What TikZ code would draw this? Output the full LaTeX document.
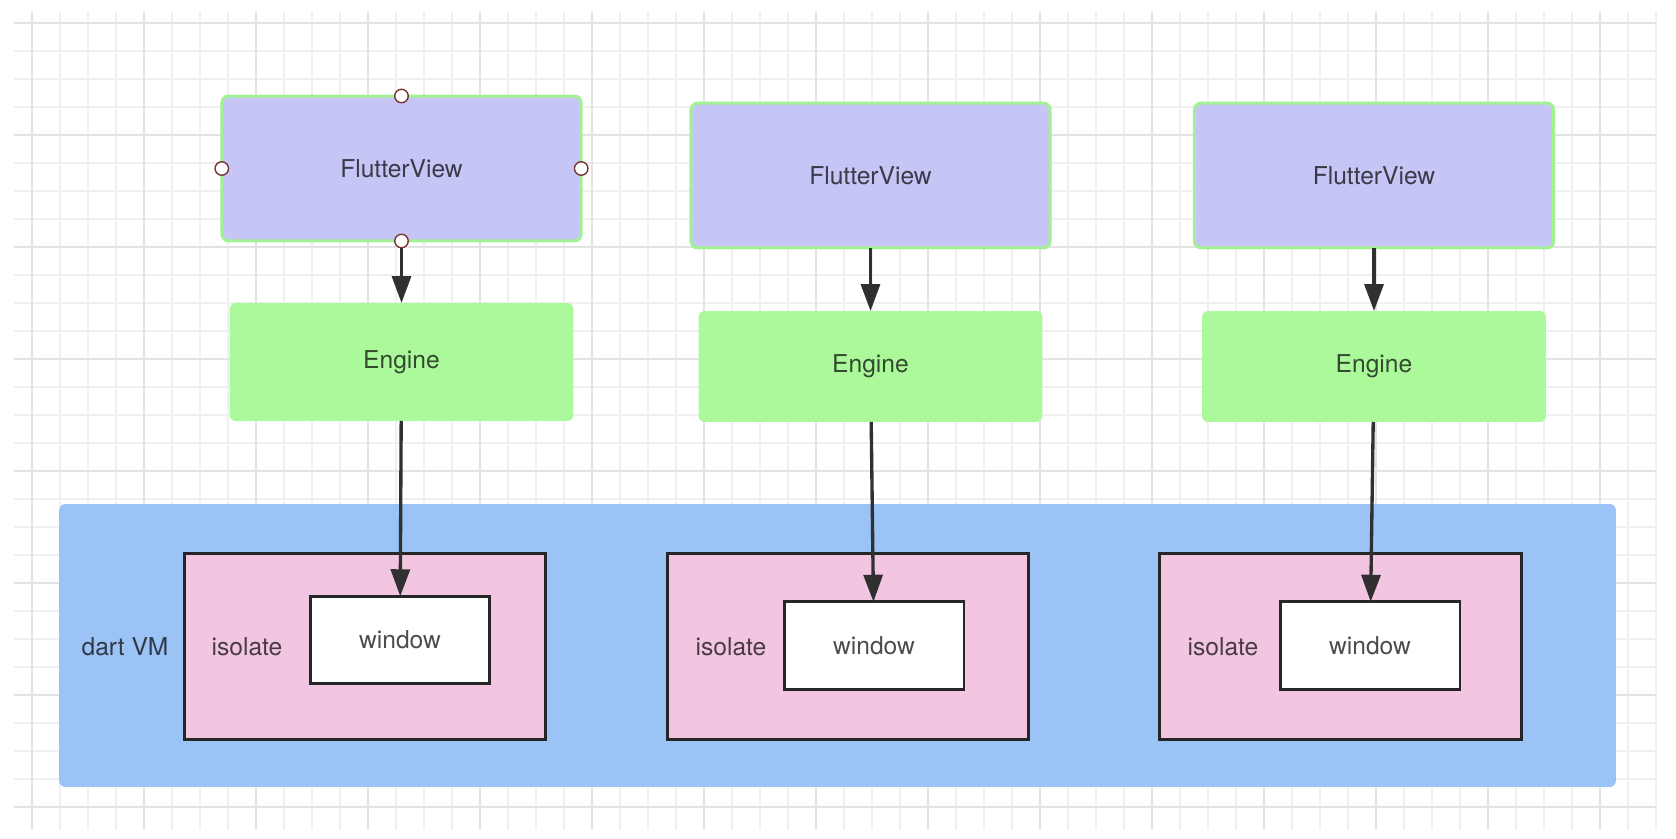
\documentclass[tikz,border=0pt]{standalone}
\usepackage{fontspec}
\setmainfont{TeX Gyre Heros}
\usetikzlibrary{arrows.meta}

\definecolor{viewfill}{HTML}{C5C5F6}
\definecolor{viewline}{HTML}{A2F294}
\definecolor{enginefill}{HTML}{ABF99A}
\definecolor{vmfill}{HTML}{9CC3F6}
\definecolor{isofill}{HTML}{F2C6E1}
\definecolor{boxline}{HTML}{262626}
\definecolor{arrowline}{HTML}{303030}
\definecolor{gridminor}{HTML}{F0F0F0}
\definecolor{gridmajor}{HTML}{E3E3E3}
\definecolor{handleline}{HTML}{7A3535}

\begin{document}
\begin{tikzpicture} [
                % one unit is one pixel of the screenshot, y grows downwards
                x=0.02cm, y=-0.02cm,
                font=\fontsize{14}{16}\selectfont,
                box/.style = {rectangle, outer sep=0pt, inner sep=0pt, text=black, text opacity=0.7},
                view/.style = {box, fill=viewfill, draw=viewline, line width=1.7pt, rounded corners=4pt,
                               minimum width=7.19cm, minimum height=2.9cm},
                engine/.style = {box, fill=enginefill, rounded corners=3.5pt, minimum width=6.88cm},
                vm/.style = {box, fill=vmfill, rounded corners=3.5pt, minimum width=31.14cm, minimum height=5.66cm},
                isolate/.style = {box, fill=isofill, draw=boxline, line width=1.7pt,
                                  minimum width=7.24cm, minimum height=3.74cm},
                window/.style = {box, fill=white, draw=boxline, line width=1.7pt,
                                 minimum width=3.6cm, minimum height=1.75cm},
                caption/.style = {box},
                link/.style = {draw=arrowline, line width=1.9pt, -{Triangle[length=0.54cm, width=0.38cm]}},
                handle/.style = {circle, fill=white, draw=handleline, line width=0.8pt,
                                 minimum size=0.27cm, inner sep=0pt}
            ]
            \useasboundingbox (0,0) rectangle (1676,838);
            \fill[white] (0,0) rectangle (1676,838);
            % the grid paper
            \foreach \gx in {32,60,...,1656}
                \draw[gridminor, line width=0.7pt] (\gx,12) -- (\gx,830);
            \foreach \gy in {23,51,...,807}
                \draw[gridminor, line width=0.7pt] (14,\gy) -- (1657,\gy);
            \foreach \gx in {32,144,...,1600}
                \draw[gridmajor, line width=0.7pt] (\gx,12) -- (\gx,830);
            \foreach \gy in {23,135,...,807}
                \draw[gridmajor, line width=0.7pt] (14,\gy) -- (1657,\gy);
            % the dart VM and its isolates
            \node[vm] (vm) at (837.5,645.5) {};
            \node[caption] (vmlabel) at (125,647) {dart VM};
            \foreach \pos/\name in {{(365,646.5)/isolate1}, {(848,646.5)/isolate2}, {(1340.5,646.5)/isolate3}}
                \node[isolate] (\name) at \pos {};
            \foreach \pos/\name in {{(247,647)/isolabel1}, {(731,647)/isolabel2}, {(1223,647)/isolabel3}}
                \node[caption] (\name) at \pos {isolate};
            \foreach \pos/\name in {{(400,640)/window1}, {(874,645.5)/window2}, {(1370,645.5)/window3}}
                \node[window] (\name) at \pos {window};
            % views and engines on top
            \foreach \pos/\name in {{(401.5,168.5)/view1}, {(870.5,175.5)/view2}, {(1374,175.5)/view3}}
                \node[view] (\name) at \pos {FlutterView};
            \foreach \pos/\name/\high in {{(401.5,362)/engine1/2.36cm}, {(870.5,366.5)/engine2/2.22cm},
                                          {(1374,366.5)/engine3/2.22cm}}
                \node[engine, minimum height=\high] (\name) at \pos {Engine};
            % connect them
            \foreach \source/\dest in {view1/engine1, view2/engine2, view3/engine3,
                                       engine1/window1, engine2/window2, engine3/window3}
                \path[link] (\source) -- (\dest);
            % the first view is selected
            \foreach \side in {north, south, east, west}
                \node[handle] (handle-\side) at (view1.\side) {};
        \end{tikzpicture}
\end{document}
